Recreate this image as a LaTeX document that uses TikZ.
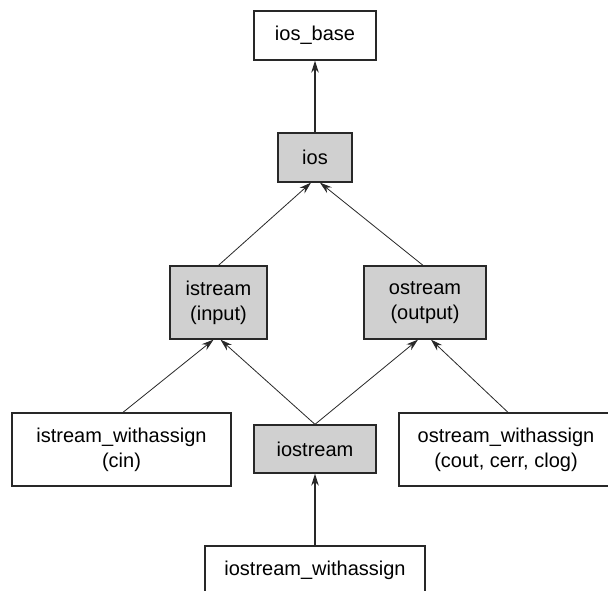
\documentclass[tikz,border=0pt]{standalone}
\usepackage{fontspec}
\setmainfont{Liberation Sans}
\usetikzlibrary{arrows.meta}
\definecolor{boxgray}{RGB}{208,208,208}
\definecolor{edgecol}{RGB}{40,40,40}
\begin{document}
\begin{tikzpicture}[x=1pt,y=-1pt,
  cls/.style={draw=edgecol, line width=1.3pt, rectangle, inner sep=0pt, align=center, font=\fontsize{20}{25}\selectfont},
  basecls/.style={cls, fill=white},
  derivcls/.style={cls, fill=boxgray},
  inh/.style={-{Stealth[length=12pt,width=7.5pt,inset=4pt]}, line width=0.8pt, draw=edgecol},
  inhthick/.style={inh, line width=1.3pt},
  ]
\clip (0,0) rectangle (608,590);
\fill[white] (0,0) rectangle (608,590);
\node[basecls, minimum width=122pt, minimum height=49pt] (iosbase) at (315,35.5) {ios\_base};
\node[derivcls, minimum width=74pt, minimum height=49pt] (ios) at (315,157.5) {ios};
\node[derivcls, minimum width=97pt, minimum height=73pt] (istream) at (218.5,302.5) {istream\\(input)};
\node[derivcls, minimum width=122pt, minimum height=73pt] (ostream) at (425,302.5) {ostream\\(output)};
\node[basecls, minimum width=219pt, minimum height=73pt] (istreamwa) at (121.5,449.5) {istream\_withassign\\(cin)};
\node[derivcls, minimum width=122pt, minimum height=48pt] (iostream) at (315,449) {iostream};
\node[basecls, minimum width=214pt, minimum height=73pt] (ostreamwa) at (506,449.5) {ostream\_withassign\\(cout, cerr, clog)};
\node[basecls, minimum width=220pt, minimum height=48pt] (iostreamwa) at (315,570) {iostream\_withassign};

\draw[inhthick] (ios.north) -- (iosbase.south);
\draw[inh] (istream.north) -- ([xshift=-4pt]ios.south);
\draw[inh] ([xshift=-2pt]ostream.north) -- ([xshift=5pt]ios.south);
\draw[inh] ([xshift=1.5pt]istreamwa.north) -- ([xshift=-5pt]istream.south);
\draw[inh] (iostream.north) -- ([xshift=2pt]istream.south);
\draw[inh] (iostream.north) -- ([xshift=-7pt]ostream.south);
\draw[inh] ([xshift=2pt]ostreamwa.north) -- ([xshift=6pt]ostream.south);
\draw[inhthick] (iostreamwa.north) -- (iostream.south);
\end{tikzpicture}
\end{document}
